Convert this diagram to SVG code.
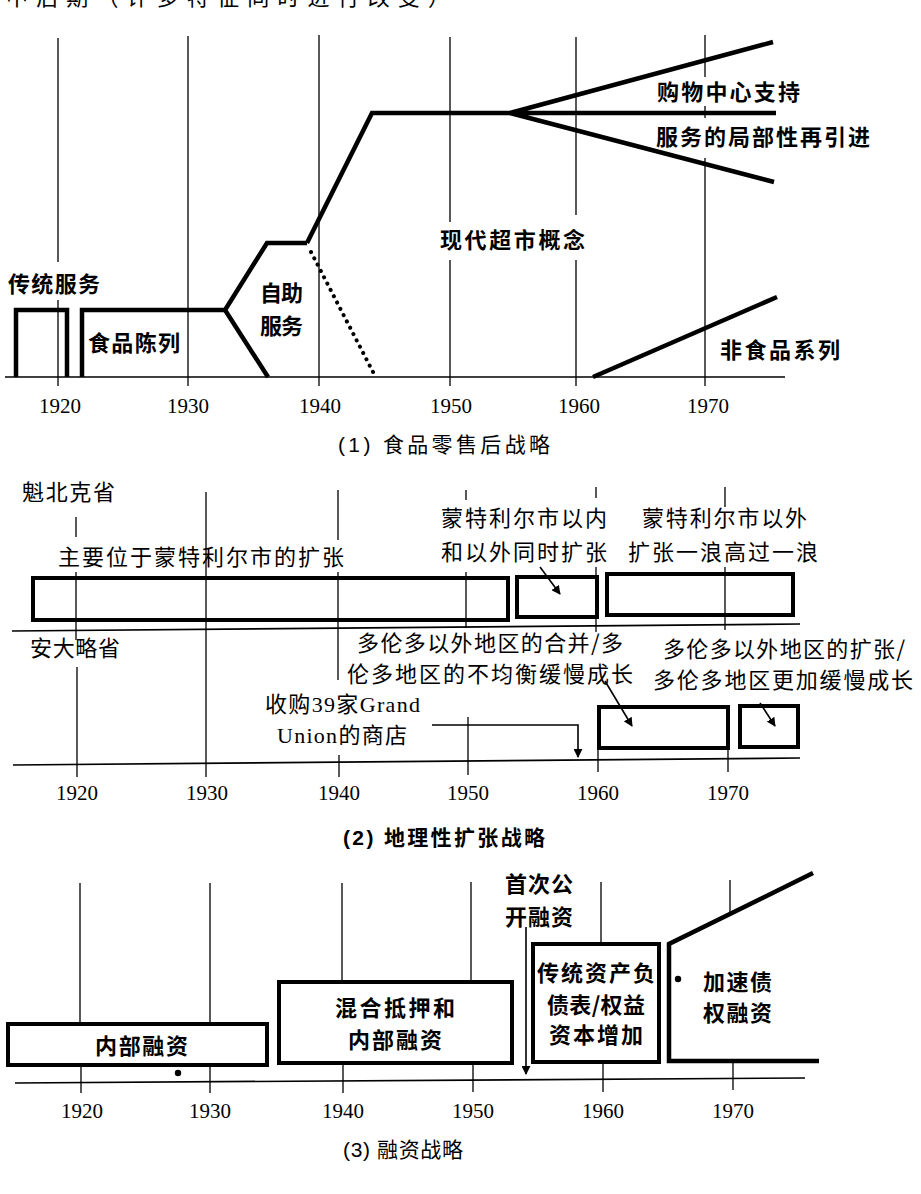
<svg xmlns="http://www.w3.org/2000/svg" width="921" height="1194" viewBox="0 0 921 1194">
  <defs>
    <style>
      .thin { stroke: #000; stroke-width: 1.3; fill: none; }
      .axis { stroke: #000; stroke-width: 1.7; fill: none; }
      .thick { stroke: #000; stroke-width: 4.5; fill: none; stroke-linejoin: miter; stroke-linecap: butt; }
      .box { stroke: #000; stroke-width: 4; fill: none; }
      .dot { stroke: #000; stroke-width: 4; fill: none; stroke-dasharray: 0.1 7; stroke-linecap: round; }
      .cn { font-family: "Noto Sans CJK SC", "Noto Sans", sans-serif; font-size: 22px; fill: #000; }
      .cnb { font-family: "Noto Sans CJK SC", "Noto Sans", sans-serif; font-size: 22px; font-weight: 600; fill: #000; }
      .mix { font-family: "Liberation Serif", "Noto Sans CJK SC", serif; font-size: 22px; fill: #000; }
      .yr { font-family: "Liberation Serif", serif; font-size: 21px; text-anchor: middle; fill: #000; }
      .cap { font-family: "Liberation Sans", "Noto Sans CJK SC", sans-serif; font-size: 21px; fill: #000; }
      .arr { stroke: #000; stroke-width: 1.6; fill: none; marker-end: url(#ah); }
    </style>
    <marker id="ah" viewBox="0 0 10 10" refX="9" refY="5" markerWidth="9" markerHeight="9" markerUnits="userSpaceOnUse" orient="auto">
      <path d="M0,0 L10,5 L0,10 Z" fill="#000"/>
    </marker>
  </defs>
  <rect width="921" height="1194" fill="#fff"/>

  <!-- heading line running off the top edge -->
  <text class="cn" x="6" y="5" font-size="30" textLength="444" lengthAdjust="spacing">中后期（许多特征同时进行改变）</text>

  <!-- ===== Panel 1: food retailing ===== -->
  <g id="grid1">
    <path class="thin" d="M58,38 V262 M58,300 V386 M188,36 V386 M319,35 V386 M450,37 V222 M450,260 V386 M576,37 V215 M576,260 V386 M705,35 V77 M705,106 V118 M705,158 V386"/>
    <line class="axis" x1="5" y1="377" x2="785" y2="377"/>
  </g>
  <g id="years1">
    <text class="yr" x="60" y="413">1920</text>
    <text class="yr" x="188" y="413">1930</text>
    <text class="yr" x="320" y="413">1940</text>
    <text class="yr" x="451" y="413">1950</text>
    <text class="yr" x="579" y="413">1960</text>
    <text class="yr" x="708" y="413">1970</text>
  </g>
  <g id="traditional-service">
    <path class="thick" d="M16,377 V310 H67 V377"/>
    <text class="cnb" x="8" y="292" textLength="92" lengthAdjust="spacing">传统服务</text>
  </g>
  <g id="food-display">
    <path class="thick" d="M82,377 V310 H225"/>
    <text class="cnb" x="88" y="351" textLength="92" lengthAdjust="spacing">食品陈列</text>
  </g>
  <g id="self-service">
    <path class="thick" d="M268,377 L225,310 L267,243 H307"/>
    <path class="dot" d="M311,252 L373,372"/>
    <text class="cnb" x="260" y="301" textLength="43" lengthAdjust="spacing">自助</text>
    <text class="cnb" x="260" y="334" textLength="43" lengthAdjust="spacing">服务</text>
  </g>
  <g id="supermarket">
    <path class="thick" d="M307,243 L372,113 H510"/>
    <text class="cnb" x="440" y="248" textLength="145" lengthAdjust="spacing">现代超市概念</text>
  </g>
  <g id="fan">
    <path class="thick" d="M510,113 L773,42 M510,113 H776 M510,113 L774,182"/>
    <text class="cnb" x="657" y="100" textLength="143" lengthAdjust="spacing">购物中心支持</text>
    <text class="cnb" x="656" y="145" textLength="214" lengthAdjust="spacing">服务的局部性再引进</text>
  </g>
  <g id="non-food">
    <path class="thick" d="M593,377 L777,297"/>
    <text class="cnb" x="720" y="358" textLength="120" lengthAdjust="spacing">非食品系列</text>
  </g>
  <text class="cap" x="338" y="452" textLength="212" lengthAdjust="spacing">(1) 食品零售后战略</text>

  <!-- ===== Panel 2: geographic expansion ===== -->
  <g id="grid2">
    <path class="thin" d="M76,517 V537 M76,572 V640 M77,667 V777 M206,492 V777 M338,490 V540 M338,572 V680 M339,755 V777 M466,490 V500 M466,572 V628 M468,717 V775 M596,487 V498 M596,567 V632 M598,707 V772 M725,487 V507 M725,567 V630 M728,706 V772"/>
    <line class="axis" x1="12" y1="631" x2="800" y2="624"/>
    <line class="axis" x1="13" y1="765" x2="800" y2="758"/>
  </g>
  <g id="years2">
    <text class="yr" x="77" y="800">1920</text>
    <text class="yr" x="207" y="800">1930</text>
    <text class="yr" x="339" y="800">1940</text>
    <text class="yr" x="468" y="800">1950</text>
    <text class="yr" x="598" y="800">1960</text>
    <text class="yr" x="728" y="800">1970</text>
  </g>
  <text class="cn" x="22" y="500" textLength="93" lengthAdjust="spacing">魁北克省</text>
  <text class="cn" x="30" y="656" textLength="90" lengthAdjust="spacing">安大略省</text>
  <g id="montreal-main">
    <rect class="box" x="33" y="578" width="475" height="42"/>
    <text class="cn" x="58" y="565" textLength="286" lengthAdjust="spacing">主要位于蒙特利尔市的扩张</text>
  </g>
  <g id="montreal-both">
    <rect class="box" x="517" y="577" width="80" height="40"/>
    <text class="cn" x="441" y="526" textLength="166" lengthAdjust="spacing">蒙特利尔市以内</text>
    <text class="cn" x="441" y="560" textLength="166" lengthAdjust="spacing">和以外同时扩张</text>
  </g>
  <g id="montreal-outside">
    <rect class="box" x="607" y="574" width="186" height="41"/>
    <text class="cn" x="642" y="526" textLength="165" lengthAdjust="spacing">蒙特利尔市以外</text>
    <text class="cn" x="628" y="560" textLength="190" lengthAdjust="spacing">扩张一浪高过一浪</text>
  </g>
  <g id="toronto-merge">
    <text class="cn" x="357" y="651" textLength="266" lengthAdjust="spacing">多伦多以外地区的合并/多</text>
    <text class="cn" x="347" y="682" textLength="286" lengthAdjust="spacing">伦多地区的不均衡缓慢成长</text>
    <rect class="box" x="599" y="707" width="129" height="41"/>
  </g>
  <g id="toronto-expand">
    <text class="cn" x="663" y="657" textLength="242" lengthAdjust="spacing">多伦多以外地区的扩张/</text>
    <text class="cn" x="653" y="688" textLength="260" lengthAdjust="spacing">多伦多地区更加缓慢成长</text>
    <rect class="box" x="740" y="706" width="58" height="41"/>
  </g>
  <g id="grand-union">
    <text class="mix" x="265" y="712" textLength="155" lengthAdjust="spacing">收购39家Grand</text>
    <text class="mix" x="277" y="743" textLength="130" lengthAdjust="spacing">Union的商店</text>
  </g>
  <text class="cap" x="343" y="845" font-weight="bold" font-size="22" textLength="202" lengthAdjust="spacing">(2) 地理性扩张战略</text>

  <!-- ===== Panel 3: financing ===== -->
  <g id="grid3">
    <path class="thin" d="M80,883 V1024 M81,1065 V1093 M210,883 V1024 M210,1065 V1093 M342,883 V982 M343,1063 V1093 M471,882 V982 M473,1062 V1092 M601,882 V944 M603,1062 V1092 M730,880 V912 M733,1061 V1090"/>
    <line class="axis" x1="15" y1="1083" x2="805" y2="1078"/>
  </g>
  <g id="years3">
    <text class="yr" x="82" y="1118">1920</text>
    <text class="yr" x="210" y="1118">1930</text>
    <text class="yr" x="343" y="1118">1940</text>
    <text class="yr" x="473" y="1118">1950</text>
    <text class="yr" x="603" y="1118">1960</text>
    <text class="yr" x="733" y="1118">1970</text>
  </g>
  <g id="internal-financing">
    <rect class="box" x="8" y="1024" width="259" height="41"/>
    <text class="cnb" x="95" y="1054" textLength="93" lengthAdjust="spacing">内部融资</text>
    <circle cx="178" cy="1073" r="3.2" fill="#000"/>
  </g>
  <g id="mixed-mortgage">
    <rect class="box" x="279" y="982" width="233" height="81"/>
    <text class="cnb" x="335" y="1016" textLength="120" lengthAdjust="spacing">混合抵押和</text>
    <text class="cnb" x="348" y="1048" textLength="94" lengthAdjust="spacing">内部融资</text>
  </g>
  <g id="ipo">
    <text class="cnb" x="505" y="892" textLength="68" lengthAdjust="spacing">首次公</text>
    <text class="cnb" x="505" y="925" textLength="68" lengthAdjust="spacing">开融资</text>
  </g>
  <g id="balance-sheet">
    <rect class="box" x="533" y="944" width="126" height="118"/>
    <text class="cnb" x="537" y="981" textLength="118" lengthAdjust="spacing">传统资产负</text>
    <text class="cnb" x="547" y="1013" textLength="98" lengthAdjust="spacing">债表/权益</text>
    <text class="cnb" x="549" y="1043" textLength="94" lengthAdjust="spacing">资本增加</text>
  </g>
  <g id="accelerated-debt">
    <path class="thick" d="M813,873 L669,944 V1061 H819"/>
    <circle cx="678" cy="979" r="3.2" fill="#000"/>
    <text class="cnb" x="703" y="990" textLength="69" lengthAdjust="spacing">加速债</text>
    <text class="cnb" x="703" y="1021" textLength="69" lengthAdjust="spacing">权融资</text>
  </g>
  <text class="cap" x="343" y="1157" textLength="120" lengthAdjust="spacing">(3) 融资战略</text>

  <!-- connectors -->
  <g id="connectors">
    <line class="arr" x1="540" y1="567" x2="560" y2="594"/>
    <line class="arr" x1="605" y1="681" x2="632" y2="726"/>
    <line class="arr" x1="760" y1="703" x2="775" y2="726"/>
    <polyline class="arr" points="432,725 578,725 578,757"/>
    <line class="arr" x1="526" y1="927" x2="526" y2="1074"/>
  </g>
</svg>
